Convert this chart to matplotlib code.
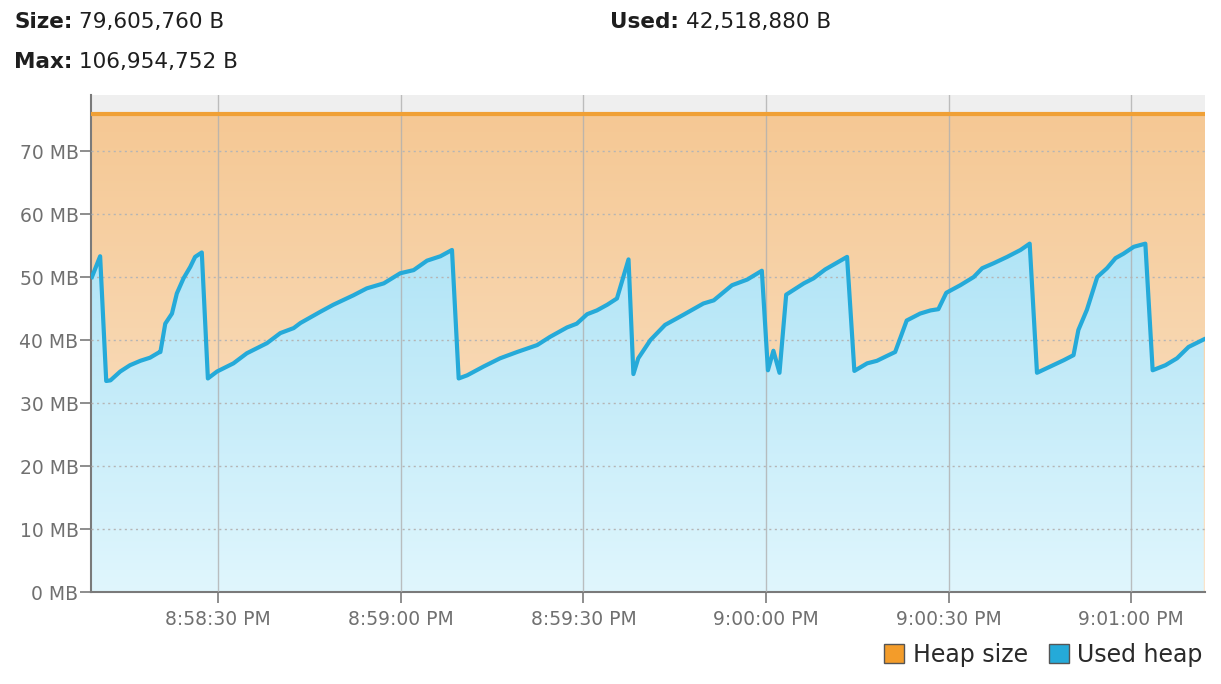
import numpy as np
import matplotlib
matplotlib.use("Agg")
import matplotlib.pyplot as plt
from matplotlib.patches import Patch, Rectangle
from matplotlib.ticker import FuncFormatter, MultipleLocator

# header values (bytes)
heap_size_bytes = 79605760
heap_used_bytes = 42518880
heap_max_bytes = 106954752

# time axis: seconds after 8:58:00 PM
start_hour, start_minute = 20, 58
t_min, t_max = 9.1, 192.1

# used heap samples (seconds, MB)
used_t = [9.25, 10.6, 11.6, 12.3, 13.9, 15.5, 17.2, 18.8, 20.2, 20.5, 21.3, 22.4,
          23.2, 24.3, 25.4, 26.2, 27.3, 28.3, 29.8, 32.5, 34.7, 38.0, 40.2, 42.4,
          43.5, 46.8, 48.9, 52.2, 54.4, 57.2, 59.9, 62.1, 64.3, 66.5, 68.4, 69.5,
          70.9, 73.6, 76.3, 79.1, 82.4, 84.5, 87.3, 88.9, 90.6, 92.2, 93.9, 95.5,
          97.4, 98.2, 99.0, 101.0, 103.4, 106.4, 109.7, 111.4, 114.4, 116.9, 119.3,
          120.3, 121.2, 122.2, 123.3, 126.2, 127.8, 129.7, 133.3, 134.5, 136.6,
          138.2, 139.9, 141.2, 143.1, 145.3, 147.0, 148.3, 149.6, 151.9, 154.1,
          155.5, 157.4, 159.6, 161.8, 163.3, 164.5, 166.7, 168.9, 170.5, 171.3,
          172.7, 174.4, 176.0, 177.4, 178.7, 180.4, 182.3, 183.5, 185.6, 187.5,
          189.4, 191.9]
used_mb = [50.0, 53.3, 33.5, 33.6, 35.0, 36.0, 36.7, 37.2, 38.0, 38.1, 42.6, 44.2,
           47.4, 49.8, 51.6, 53.2, 53.9, 33.9, 35.0, 36.3, 37.9, 39.5, 41.1, 41.9,
           42.7, 44.5, 45.6, 47.1, 48.2, 49.0, 50.6, 51.1, 52.6, 53.3, 54.3, 33.9,
           34.4, 35.8, 37.1, 38.1, 39.2, 40.5, 42.0, 42.6, 44.1, 44.7, 45.6, 46.6,
           52.8, 34.6, 37.1, 40.0, 42.4, 44.0, 45.8, 46.3, 48.7, 49.6, 51.0,
           35.2, 38.3, 34.8, 47.2, 49.0, 49.8, 51.2, 53.2, 35.1, 36.3,
           36.7, 37.5, 38.1, 43.1, 44.2, 44.7, 44.9, 47.5, 48.7, 50.0,
           51.4, 52.2, 53.2, 54.3, 55.3, 34.8, 35.8, 36.8, 37.6, 41.6,
           44.8, 50.0, 51.4, 53.0, 53.7, 54.8, 55.3, 35.2, 36.0, 37.1,
           38.9, 40.1]

y_ticks = [0, 10, 20, 30, 40, 50, 60, 70]
y_top = 78.9

heap_mb = heap_size_bytes / 1048576.0

def fmt_time(val, pos):
    total = int(round(val)) + start_minute * 60 + start_hour * 3600
    h = total // 3600
    m = (total % 3600) // 60
    s = total % 60
    suffix = "PM" if h >= 12 else "AM"
    h12 = h % 12 or 12
    return "{0}:{1:02d}:{2:02d} {3}".format(h12, m, s, suffix)

# figure
fig = plt.figure(figsize=(12.21, 6.84), dpi=100)
ax = fig.add_axes([91 / 1221, 1 - 592 / 684, (1205 - 91) / 1221, (592 - 95) / 684])
ax.set_xlim(t_min, t_max)
ax.set_ylim(0, y_top)

# grey band above the heap line
ax.add_patch(Rectangle((t_min, heap_mb), t_max - t_min, y_top - heap_mb,
                       facecolor="#efefef", edgecolor="none", zorder=0))

# orange gradient for heap area
grad = np.linspace(1, 0, 256).reshape(-1, 1)
orange = np.array([[0.984, 0.898, 0.800], [0.961, 0.784, 0.580]])
img_o = orange[0] + (orange[1] - orange[0]) * grad[..., None]
ax.imshow(img_o, extent=(t_min, t_max, 0, heap_mb), aspect="auto",
          origin="upper", zorder=1)

# blue gradient for used heap, clipped to the area under the curve
blue = np.array([[0.878, 0.965, 0.992], [0.690, 0.894, 0.965]])
img_b = blue[0] + (blue[1] - blue[0]) * grad[..., None]
im_b = ax.imshow(img_b, extent=(t_min, t_max, 0, 56), aspect="auto",
                 origin="upper", zorder=2)
poly = ax.fill_between(used_t, used_mb, 0, facecolor="none", edgecolor="none")
im_b.set_clip_path(poly.get_paths()[0], transform=ax.transData)

# grid
for yt in y_ticks[1:]:
    ax.axhline(yt, color="#b5b5b5", lw=1, ls=(0, (1.5, 2.5)), zorder=3)
for xt in range(30, 200, 30):
    ax.axvline(xt, color="#b0b0b0", lw=1, zorder=3, alpha=0.8)

# lines
ax.plot([t_min, t_max], [heap_mb, heap_mb], color="#f0a035", lw=3, zorder=4)
ax.plot(used_t, used_mb, color="#25aad9", lw=3, zorder=5, solid_joinstyle="round")

# axes style
for side in ["top", "right"]:
    ax.spines[side].set_visible(False)
for side in ["left", "bottom"]:
    ax.spines[side].set_color("#7a7a7a")
    ax.spines[side].set_linewidth(1.5)
ax.set_yticks(y_ticks)
ax.set_yticklabels(["{0} MB".format(v) for v in y_ticks])
ax.xaxis.set_major_locator(MultipleLocator(30))
ax.xaxis.set_major_formatter(FuncFormatter(fmt_time))
ax.tick_params(axis="both", colors="#7a7a7a", labelcolor="#707070", labelsize=13.5,
               length=8, width=1.2)
ax.tick_params(axis="x", pad=5)
ax.tick_params(axis="y", pad=1)

# header
def header(x, y, label, value):
    t = fig.text(x / 1221, 1 - y / 684, label, fontsize=15.5, fontweight="bold",
                 color="#1e1e1e", va="center", ha="left")
    fig.canvas.draw()
    bb = t.get_window_extent()
    fig.text(bb.x1 / 1221 + 7 / 1221, 1 - y / 684, value, fontsize=15.5,
             color="#1e1e1e", va="center", ha="left")

header(14, 22, "Size:", "{0:,} B".format(heap_size_bytes))
header(14, 62, "Max:", "{0:,} B".format(heap_max_bytes))
header(610, 22, "Used:", "{0:,} B".format(heap_used_bytes))

# legend
handles = [Patch(facecolor="#f39c2a", edgecolor="#555555", label="Heap size"),
           Patch(facecolor="#25aad9", edgecolor="#555555", label="Used heap")]
fig.legend(handles=handles, loc="center right", bbox_to_anchor=(1224 / 1221, 1 - 655 / 684),
           ncol=2, frameon=False, fontsize=17, handlelength=0.85, handleheight=0.85,
           handletextpad=0.35, columnspacing=0.9, labelcolor="#2a2a2a")

fig.savefig("out.png", dpi=100)
